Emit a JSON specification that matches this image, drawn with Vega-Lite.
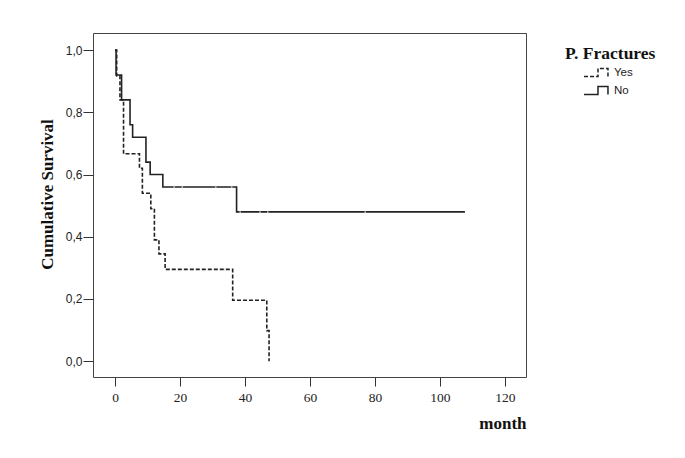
{
  "$schema": "https://vega.github.io/schema/vega-lite/v6.json",
  "width": 433,
  "height": 344,
  "autosize": {"type": "none"},
  "padding": {"left": 93, "top": 33, "right": 159, "bottom": 81},
  "background": "white",
  "config": {
    "view": {"stroke": "#444", "strokeWidth": 1},
    "axis": {"domain": false, "grid": false, "tickColor": "#333", "tickWidth": 1, "labelColor": "#222", "titleColor": "#111"},
    "legend": {"padding": 0}
  },
  "datasets": {
    "km": [
      {"group": "No", "month": 0, "surv": 1.0},
      {"group": "No", "month": 0.3, "surv": 0.92},
      {"group": "No", "month": 2.0, "surv": 0.84},
      {"group": "No", "month": 4.6, "surv": 0.76},
      {"group": "No", "month": 5.4, "surv": 0.72},
      {"group": "No", "month": 9.5, "surv": 0.64},
      {"group": "No", "month": 10.8, "surv": 0.60},
      {"group": "No", "month": 14.7, "surv": 0.56},
      {"group": "No", "month": 37.4, "surv": 0.48},
      {"group": "No", "month": 107.7, "surv": 0.48},
      {"group": "Yes", "month": 0, "surv": 1.0},
      {"group": "Yes", "month": 0.5, "surv": 0.917},
      {"group": "Yes", "month": 1.5, "surv": 0.84},
      {"group": "Yes", "month": 2.6, "surv": 0.667},
      {"group": "Yes", "month": 7.5, "surv": 0.62},
      {"group": "Yes", "month": 8.4, "surv": 0.54},
      {"group": "Yes", "month": 11.0, "surv": 0.49},
      {"group": "Yes", "month": 12.1, "surv": 0.39},
      {"group": "Yes", "month": 13.5, "surv": 0.345},
      {"group": "Yes", "month": 15.4, "surv": 0.295},
      {"group": "Yes", "month": 36.2, "surv": 0.196},
      {"group": "Yes", "month": 46.7, "surv": 0.098},
      {"group": "Yes", "month": 47.4, "surv": 0.0}
    ],
    "censor": [
      {"group": "No", "month": 18.2, "surv": 0.56},
      {"group": "No", "month": 20.7, "surv": 0.56},
      {"group": "No", "month": 31.0, "surv": 0.56},
      {"group": "No", "month": 35.9, "surv": 0.56},
      {"group": "No", "month": 38.5, "surv": 0.48},
      {"group": "No", "month": 44.6, "surv": 0.48},
      {"group": "No", "month": 47.0, "surv": 0.48},
      {"group": "No", "month": 77.0, "surv": 0.48},
      {"group": "Yes", "month": 33.8, "surv": 0.295}
    ]
  },
  "layer": [
    {
      "data": {"name": "km"},
      "mark": {"type": "line", "interpolate": "step-after", "strokeWidth": 1.6, "color": "#222"},
      "encoding": {
        "x": {
          "field": "month", "type": "quantitative",
          "scale": {"domain": [-6.8, 126.5], "nice": false, "zero": false},
          "axis": {
            "values": [0, 20, 40, 60, 80, 100, 120],
            "tickSize": 9,
            "labelFont": "Liberation Serif", "labelFontSize": 13.5, "labelPadding": 4,
            "title": "month", "titleFont": "Liberation Serif", "titleFontSize": 17, "titleFontWeight": "bold",
            "titleX": 433, "titleY": 51, "titleAlign": "right", "titleBaseline": "alphabetic"
          }
        },
        "y": {
          "field": "surv", "type": "quantitative",
          "scale": {"domain": [-0.051, 1.055], "nice": false, "zero": false},
          "axis": {
            "values": [0, 0.2, 0.4, 0.6, 0.8, 1.0],
            "labelExpr": "replace(format(datum.value, '.1f'), '.', ',')",
            "tickSize": 10,
            "labelFont": "Liberation Sans", "labelFontSize": 12, "labelPadding": 1,
            "title": "Cumulative Survival", "titleFont": "Liberation Serif", "titleFontSize": 17, "titleFontWeight": "bold",
            "titleX": -46, "titleY": 161, "titleAngle": -90, "titleAlign": "center", "titleBaseline": "middle"
          }
        },
        "strokeDash": {
          "field": "group", "type": "nominal",
          "scale": {"domain": ["Yes", "No"], "range": [[4, 2], [1, 0]]},
          "legend": {
            "orient": "none", "legendX": 472, "legendY": 12,
            "title": "P. Fractures", "titleFont": "Liberation Serif", "titleFontSize": 17.5, "titleFontWeight": "bold", "titleColor": "#111", "titlePadding": 0,
            "symbolType": "M-1.33,0.45 L0.22,0.45 L0.22,-0.45 L1.33,-0.45 L1.33,0.45",
            "symbolSize": 324, "symbolStrokeWidth": 1.5, "symbolStrokeColor": "#222", "symbolFillColor": "transparent",
            "symbolOffset": 21, "labelOffset": 8, "rowPadding": 0,
            "labelFont": "Liberation Sans", "labelFontSize": 11.5, "labelColor": "#222"
          }
        }
      }
    },
    {
      "data": {"name": "censor"},
      "mark": {"type": "tick", "color": "#e0e0e0", "thickness": 1.5, "size": 3, "orient": "vertical"},
      "encoding": {
        "x": {"field": "month", "type": "quantitative"},
        "y": {"field": "surv", "type": "quantitative"}
      }
    }
  ]
}
